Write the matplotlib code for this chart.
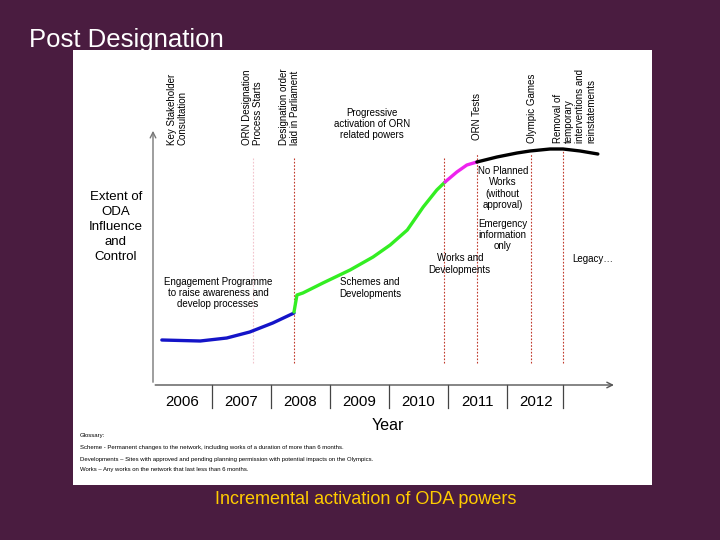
import matplotlib
matplotlib.use("Agg")
import matplotlib.pyplot as plt

plt.rcParams['font.family'] = ['Liberation Sans', 'DejaVu Sans']

# curve segments (year, extent of ODA influence)
blue_x = [2006.15, 2006.80, 2007.25, 2007.64, 2008.03, 2008.39]
blue_y = [45, 44, 47, 53, 62, 72]
green_x = [2008.39, 2008.44, 2008.54, 2008.88, 2009.34, 2009.73, 2010.02, 2010.31, 2010.58, 2010.81, 2010.95]
green_y = [73, 90, 92, 102, 115, 128, 140, 155, 178, 195, 203]
magenta_x = [2010.95, 2011.15, 2011.32, 2011.49]
magenta_y = [203, 213, 220, 223]
black_x = [2011.49, 2011.83, 2012.17, 2012.39, 2012.73, 2012.95, 2013.24, 2013.54]
black_y = [223, 228, 232, 234, 236, 236, 234, 231]

# milestones (vertical dotted lines)
event_x = [2007.69, 2008.39, 2010.93, 2011.49, 2012.41, 2012.95]
event_top = [227, 227, 228, 232, 232, 235]
event_col = ['#f2c4cc', '#c0392b', '#c0392b', '#c0392b', '#c0392b', '#c0392b']

years = [2006, 2007, 2008, 2009, 2010, 2011, 2012]
year_sep = [2007, 2008, 2009, 2010, 2011, 2012, 2012.95]

bg = '#4a1c40'
fig = plt.figure(figsize=(7.2, 5.4), dpi=100, facecolor=bg)

ax = fig.add_axes([73 / 720, 55 / 540, 579 / 720, 435 / 540])
ax.set_facecolor('white')
ax.set_xlim(2004.644, 2014.458)
ax.set_ylim(-100, 335)
for sp in ax.spines.values():
    sp.set_visible(False)
ax.set_xticks([])
ax.set_yticks([])

# axes with arrows
ax.annotate('', xy=(2006, 257), xytext=(2006, 0),
            arrowprops=dict(arrowstyle='->', color='#777777', lw=1))
ax.annotate('', xy=(2013.86, 0), xytext=(2005.99, 0),
            arrowprops=dict(arrowstyle='->', color='#555555', lw=1))

for xs in year_sep:
    ax.plot([xs, xs], [0, -23], color='#444444', lw=0.9)
for yr in years:
    ax.text(yr + 0.5, -17, str(yr), ha='center', va='center', fontsize=10.8)
ax.text(2009.98, -40, 'Year', ha='center', va='center', fontsize=11.5)

ax.text(2005.37, 158, 'Extent of\nODA\nInfluence\nand\nControl',
        ha='center', va='center', fontsize=9.5, linespacing=1.35)

for xe, top, c in zip(event_x, event_top, event_col):
    ax.plot([xe, xe], [22, top], color=c, lw=0.8, ls=(0, (1.5, 1.5)))

ax.plot(blue_x, blue_y, color='#1414c8', lw=2.4, solid_capstyle='round')
ax.plot(green_x, green_y, color='#33ee22', lw=2.4, solid_capstyle='round')
ax.plot(magenta_x, magenta_y, color='#ee22ee', lw=2.4, solid_capstyle='round')
ax.plot(black_x, black_y, color='black', lw=2.4, solid_capstyle='round')

# rotated milestone labels
rot_labels = [
    (2006.41, 240, 'Key Stakeholder\nConsultation'),
    (2007.68, 240, 'ORN Designation\nProcess Starts'),
    (2008.31, 240, 'Designation order\nlaid in Parliament'),
    (2011.49, 245, 'ORN Tests'),
    (2012.42, 242, 'Olympic Games'),
    (2013.15, 242, 'Removal of\ntemporary\ninterventions and\nreinstatements'),
]
for x, y, s in rot_labels:
    ax.text(x, y, s, rotation=90, ha='center', va='bottom', fontsize=7,
            multialignment='left', linespacing=1.15)

notes = [
    (2009.71, 261, 'Progressive\nactivation of ORN\nrelated powers'),
    (2007.10, 92, 'Engagement Programme\nto raise awareness and\ndevelop processes'),
    (2009.68, 97, 'Schemes and\nDevelopments'),
    (2011.20, 121, 'Works and\nDevelopments'),
    (2011.93, 197, 'No Planned\nWorks\n(without\napproval)'),
    (2011.93, 150, 'Emergency\ninformation\nonly'),
    (2013.46, 126, 'Legacy\u2026'),
]
for x, y, s in notes:
    ax.text(x, y, s, ha='center', va='center', fontsize=7, linespacing=1.15)

glossary = [
    'Glossary:',
    'Scheme - Permanent changes to the network, including works of a duration of more than 6 months.',
    'Developments \u2013 Sites with approved and pending planning permission with potential impacts on the Olympics.',
    'Works \u2013 Any works on the network that last less than 6 months.',
]
for gy, s in zip([-51, -62, -74, -84], glossary):
    ax.text(2004.76, gy, s, ha='left', va='center', fontsize=4.3)

fig.text(29 / 720, 1 - 40 / 540, 'Post Designation', color='white',
         fontsize=18.5, ha='left', va='center')
fig.text(366 / 720, 1 - 500 / 540, 'Incremental activation of ODA powers',
         color='#ffcc00', fontsize=13, ha='center', va='center')

fig.savefig('out.png', dpi=100, facecolor=bg)
